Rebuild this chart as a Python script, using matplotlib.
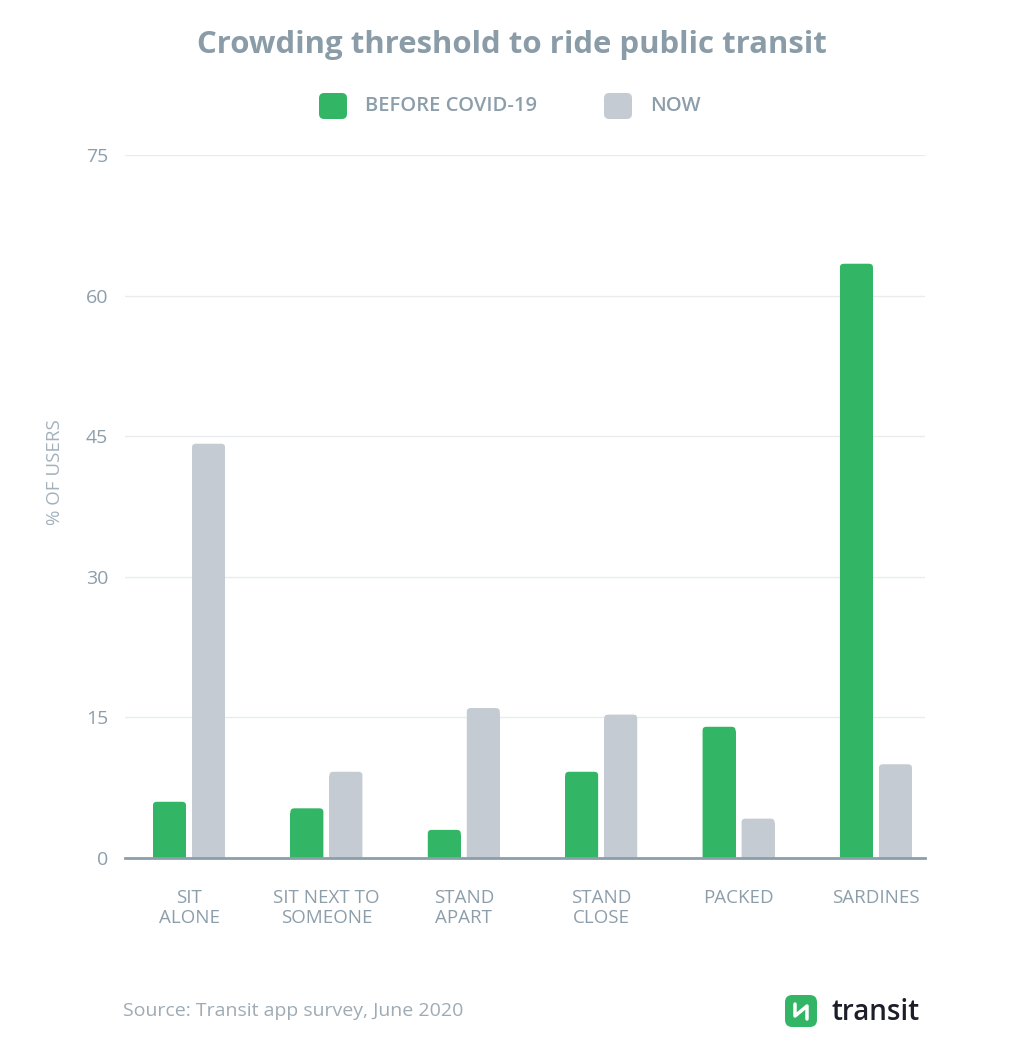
import numpy as np
import matplotlib
matplotlib.use("Agg")
from matplotlib import pyplot as plt
from matplotlib.patches import FancyBboxPatch

categories = ["SIT\nALONE", "SIT NEXT TO\nSOMEONE", "STAND\nAPART", "STAND\nCLOSE", "PACKED", "SARDINES"]
before_covid = [6.0, 5.3, 3.0, 9.2, 14.0, 63.4]
now = [44.2, 9.2, 16.0, 15.3, 4.2, 10.0]
y_ticks = [0, 15, 30, 45, 60, 75]

GREEN = "#32b565"
GRAY = "#c4cbd3"
TEXT = "#8d9eab"

plt.rcParams['font.family'] = ['Open Sans', 'DejaVu Sans']

fig = plt.figure(figsize=(10.24, 10.47), dpi=100)
ax = fig.add_axes([125/1024, 1-858/1047, 800/1024, 703/1047])

x = np.arange(len(categories))
w = 0.24
off = 0.142


def rounded_bars(ax, xs, heights, color):
    # square bottom + slightly rounded top
    for xi, h in zip(xs, heights):
        ax.bar(xi, max(h - 0.5, 0), width=w, bottom=0, color=color, zorder=3, linewidth=0)
        p = FancyBboxPatch((xi - w/2 + 0.02, 0), w - 0.04, h - 0.24,
                           boxstyle="round,pad=0.02,rounding_size=0.03",
                           mutation_aspect=12, facecolor=color, edgecolor='none', zorder=3)
        ax.add_patch(p)


rounded_bars(ax, x - off, before_covid, GREEN)
rounded_bars(ax, x + off, now, GRAY)

ax.set_xlim(-0.466, 5.357)
ax.set_ylim(0, 75)
ax.set_yticks(y_ticks)
ax.set_yticklabels([str(t) for t in y_ticks], fontsize=14, color=TEXT)
ax.set_xticks(x)
ax.set_xticklabels(categories, fontsize=13.5, color=TEXT, linespacing=1.2)
ax.tick_params(axis='both', length=0)
ax.tick_params(axis='y', pad=12)
ax.tick_params(axis='x', pad=22)

ax.grid(axis='y', color='#e9ecef', linewidth=1, zorder=0)
for s in ['top', 'right', 'left']:
    ax.spines[s].set_visible(False)
ax.spines['bottom'].set_color('#8d9eab')
ax.spines['bottom'].set_linewidth(2)
ax.spines['bottom'].set_zorder(4)

fig.text(55/1024, 1-472/1047, "% OF USERS", rotation=90, ha='center', va='center',
         fontsize=13.5, color='#a3b1bb')

fig.text(512/1024, 1-45/1047, "Crowding threshold to ride public transit",
         ha='center', va='center', fontsize=22.4, fontweight='bold', color='#8a9ca8')

# legend
for lx, lc, lt in [(319, GREEN, "BEFORE COVID-19"), (604, GRAY, "NOW")]:
    fig.patches.append(FancyBboxPatch((lx/1024, 1-119/1047), 28/1024, 26/1047,
                                      boxstyle="round,pad=0,rounding_size=0.005",
                                      transform=fig.transFigure, facecolor=lc, edgecolor='none'))
    fig.text((lx + 46)/1024, 1-106/1047, lt, ha='left', va='center', fontsize=14.5,
             fontweight='semibold', color=TEXT)

fig.text(123/1024, 1-1011/1047, "Source: Transit app survey, June 2020", ha='left', va='center',
         fontsize=14, color='#9eabb5')

# transit logo
fig.patches.append(FancyBboxPatch((785/1024, 1-1027/1047), 32/1024, 32/1047,
                                  boxstyle="round,pad=0,rounding_size=0.007",
                                  transform=fig.transFigure, facecolor=GREEN, edgecolor='none'))
fig.lines.append(plt.Line2D([795/1024, 795/1024, 807/1024, 807/1024],
                            [1-1004/1047, 1-1016/1047, 1-1006/1047, 1-1019/1047],
                            transform=fig.transFigure, color='white', linewidth=2.5,
                            solid_capstyle='round'))
fig.text(832/1024, 1-1012/1047, "transit", ha='left', va='center', fontsize=20,
         fontweight='semibold', color='#1e1e2a')

fig.savefig("out.png", dpi=100, facecolor='white')
